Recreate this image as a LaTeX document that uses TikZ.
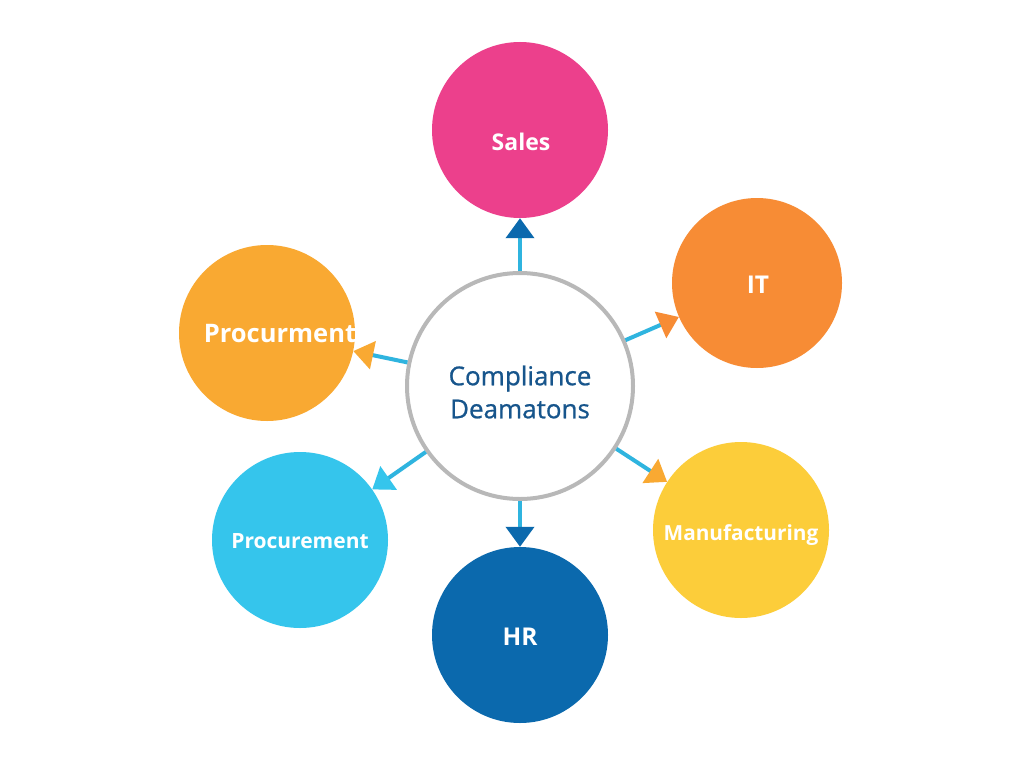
\documentclass[tikz,border=0pt]{standalone}
\usepackage{fontspec}
\setmainfont{Open Sans}
\newfontfamily\hubfont{Open Sans}[FakeBold=0.8]
\usetikzlibrary{arrows.meta}
\definecolor{salespink}{HTML}{EC408C}
\definecolor{itorange}{HTML}{F78C35}
\definecolor{procorange}{HTML}{F9A932}
\definecolor{proccyan}{HTML}{35C5EC}
\definecolor{hrblue}{HTML}{0B69AD}
\definecolor{manyellow}{HTML}{FCCD3A}
\definecolor{linecyan}{HTML}{2FB4DF}
\definecolor{ringgray}{HTML}{B8B8B8}
\definecolor{centertext}{HTML}{17558C}
\tikzset{
  dept/.style={circle, minimum size=176pt, inner sep=0pt},
  lbl/.style={text=white, font=\fontsize{#1}{28}\selectfont\bfseries},
  lbl/.default=24.5,
  hub/.style={circle, draw=ringgray, line width=4pt, fill=white, minimum size=226pt, inner sep=0pt},
  hubtext/.style={text=centertext, align=center, font=\hubfont\fontsize{26}{33}\selectfont},
  link/.style={draw=linecyan, line width=4pt},
}
\begin{document}
\begin{tikzpicture}[x=1pt,y=-1pt]
\useasboundingbox (0,0) rectangle (1024,768);
\fill[white] (0,0) rectangle (1024,768);
\node[dept, fill=salespink] (sales) at (520,130) {};
\node[lbl=23] (salest) at (521,142) {Sales};
\node[dept, fill=itorange, minimum size=170pt] (it) at (757,283) {};
\node[lbl] (itt) at (758,285) {IT};
\node[dept, fill=procorange] (proc1) at (267,333) {};
\node[lbl=25.5] (proc1t) at (280,334) {Procurment};
\node[dept, fill=proccyan] (proc2) at (300,540) {};
\node[lbl=21] (proc2t) at (300,541) {Procurement};
\node[dept, fill=hrblue] (hr) at (520,635) {};
\node[lbl] (hrt) at (520,637) {HR};
\node[dept, fill=manyellow] (man) at (741,530) {};
\node[lbl=20.8] (mant) at (741,535) {Manufacturing};
\node[hub] (hub) at (520,386) {};
\node[hubtext] (hubt) at (520,392) {Compliance\\Deamatons};
\draw[link, -{Triangle[width=28pt,length=20pt,color=hrblue]}] (hub) -- (sales);
\draw[link, -{Triangle[width=28pt,length=20pt,color=itorange]}] (hub) -- (it);
\draw[link, -{Triangle[width=28pt,length=20pt,color=procorange]}] (hub) -- (proc1);
\draw[link, -{Triangle[width=28pt,length=20pt,color=proccyan]}] (hub) -- (proc2);
\draw[link, -{Triangle[width=28pt,length=20pt,color=hrblue]}] (hub) -- (hr);
\draw[link, -{Triangle[width=28pt,length=20pt,color=procorange]}] (hub) -- (man);
\end{tikzpicture}
\end{document}
